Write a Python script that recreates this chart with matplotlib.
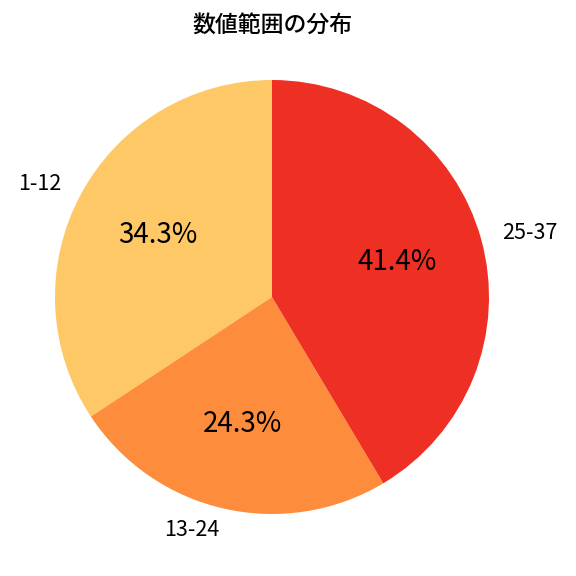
import matplotlib
matplotlib.use("Agg")
import matplotlib.pyplot as plt

plt.rcParams['font.family'] = ['Noto Sans CJK JP', 'DejaVu Sans']

# データ
labels = ['1-12', '13-24', '25-37']
counts = [24, 17, 29]
colors = ['#FEC866', '#FD8D3C', '#EE3024']

W = 576.0
fig = plt.figure(figsize=(5.76, 5.76), dpi=100)
# pie radius ~217px, center (272, 297)
side = 2.5 * 217
ax = fig.add_axes([(272 - side / 2) / W, (W - 297 - side / 2) / W, side / W, side / W])
wedges, texts, autotexts = ax.pie(counts, labels=labels, colors=colors,
                                  autopct='%1.1f%%', startangle=90,
                                  textprops={'fontsize': 15.5})
for t in autotexts:
    t.set_fontsize(20)
fig.text(272 / W, 1 - 25 / W, '数値範囲の分布', fontsize=16.5,
         ha='center', va='center', fontweight='medium')
plt.savefig('out.png', dpi=100)
